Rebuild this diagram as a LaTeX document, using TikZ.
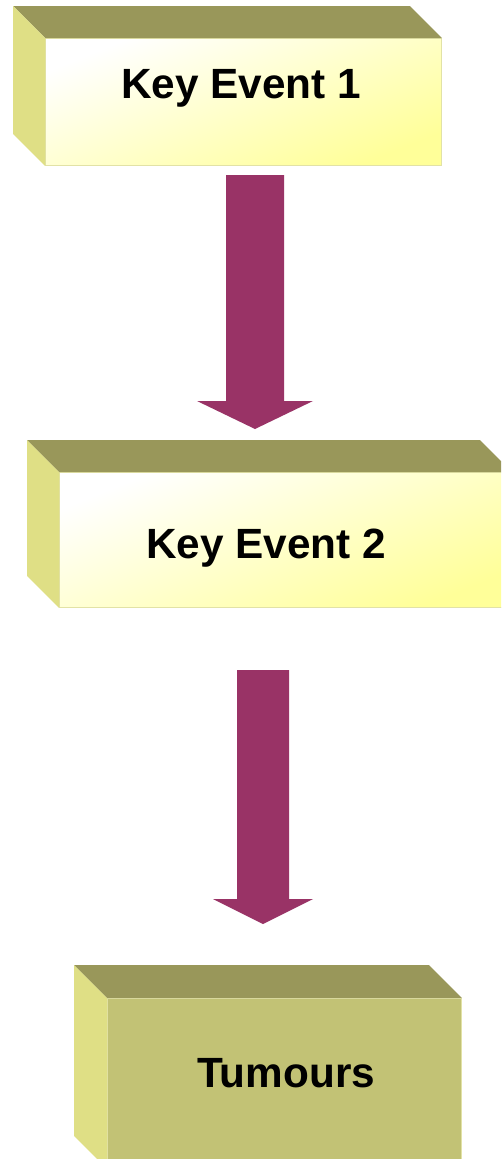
\documentclass[tikz,border=0pt]{standalone}
\usepackage{fontspec}
\setmainfont{Liberation Sans}
\usetikzlibrary{calc}

\definecolor{topc}{HTML}{99975A}
\definecolor{sidec}{HTML}{DFDF85}
\definecolor{paley}{HTML}{FFFF99}
\definecolor{edgec}{HTML}{E2E2A6}
\definecolor{solidc}{HTML}{C2C275}
\definecolor{arrowc}{HTML}{993366}

\tikzset{
  face/.style={draw=edgec, line width=0.8pt, inner sep=0pt, anchor=north west},
  lightface/.style={face, top color=white, bottom color=paley, shading angle=22},
  solidface/.style={face, fill=solidc},
  label/.style={font=\bfseries\fontsize{42.3}{48}\selectfont, inner sep=0pt, anchor=base west},
}

% top and left faces of a cuboid whose front face is node #1, depth #2
\newcommand\cubefaces[2]{%
  \fill[topc] (#1.north west) -- (#1.north east) -- ($(#1.north east)+(-#2,-#2)$)
    -- ($(#1.north west)+(-#2,-#2)$) -- cycle;
  \fill[sidec] (#1.north west) -- ($(#1.north west)+(-#2,-#2)$)
    -- ($(#1.south west)+(-#2,-#2)$) -- (#1.south west) -- cycle;
}

% block arrow from #1 to tip #2: half shaft #3, half head #4, head length #5
\newcommand\blockarrow[5]{%
  \fill[arrowc] ($(#1)+(-#3,0)$) -- ($(#1)+(#3,0)$) -- ($(#2)+(#3,-#5)$)
    -- ($(#2)+(#4,-#5)$) -- (#2) -- ($(#2)+(-#4,-#5)$)
    -- ($(#2)+(-#3,-#5)$) -- cycle;
}

\begin{document}
\begin{tikzpicture}[x=1pt, y=-1pt]
  \clip (0,0) rectangle (501,1159);
  \fill[white] (0,0) rectangle (501,1159);

  % first event
  \node[lightface, minimum width=396pt, minimum height=127pt] (b1) at (45,38) {};
  \cubefaces{b1}{32}
  \node[label] (t1) at (121,98) {Key Event 1};

  % second event
  \node[lightface, minimum width=452pt, minimum height=135pt] (b2) at (59,472) {};
  \cubefaces{b2}{32}
  \node[label] (t2) at (146,558) {Key Event 2};

  % outcome
  \node[solidface, minimum width=354pt, minimum height=170pt] (b3) at (107,998) {};
  \cubefaces{b3}{33}
  \node[label] (t3) at (197,1087) {Tumours};

  % connectors
  \coordinate (a1s) at (255,175);
  \coordinate (a1t) at (255,429);
  \blockarrow{a1s}{a1t}{29}{58}{28}

  \coordinate (a2s) at (263,670);
  \coordinate (a2t) at (263,924);
  \blockarrow{a2s}{a2t}{26}{50}{25}
\end{tikzpicture}
\end{document}
